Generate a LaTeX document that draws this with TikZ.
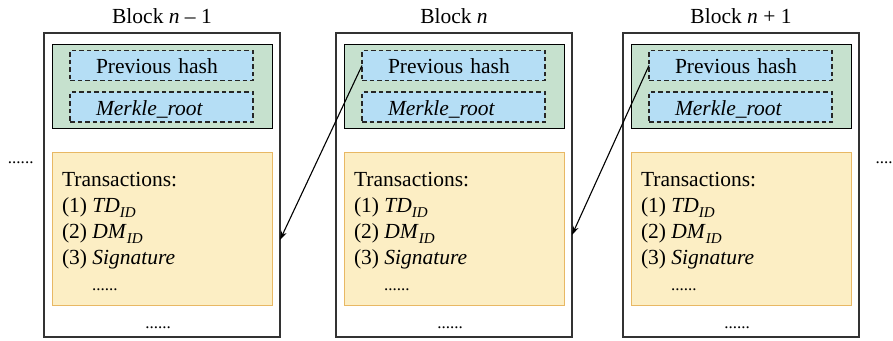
\documentclass[tikz,border=0pt]{standalone}
\usepackage{fontspec}
\setmainfont{Liberation Serif}
\usetikzlibrary{arrows.meta,calc}
\definecolor{hdrgreen}{HTML}{C6E1CE}
\definecolor{hashblue}{HTML}{B5DEF5}
\definecolor{txfill}{HTML}{FCEEC4}
\definecolor{txedge}{HTML}{E8B864}
\definecolor{edgegray}{HTML}{333333}
\newcommand{\subID}{\raisebox{-5pt}{\fontsize{15}{15}\selectfont\itshape ID}}
\begin{document}
\begin{tikzpicture}[x=1pt,y=-1pt,
  every node/.style={inner sep=0pt,outer sep=0pt,font=\fontsize{21.5}{26}\selectfont},
  blockbox/.style={draw=edgegray,line width=1.1pt,fill=white,minimum width=236pt,minimum height=304pt},
  hdrbox/.style={draw=black,line width=1pt,fill=hdrgreen,minimum width=220pt,minimum height=84pt},
  hashbox/.style={draw=black!85,line width=1.2pt,dash pattern=on 4.5pt off 3pt,fill=hashblue,
    minimum width=183pt,minimum height=30pt,inner xsep=26pt,text width=131pt,align=left,
    text height=16pt,text depth=0pt},
  txbox/.style={draw=txedge,line width=0.9pt,fill=txfill,minimum width=220pt,minimum height=153pt},
  txtext/.style={align=left},
  dotstext/.style={font=\fontsize{17}{17}\selectfont},
  linkarrow/.style={line width=1.1pt,-{Stealth[length=9pt,width=6pt]}}]
\useasboundingbox (0,0) rectangle (893,340);

\foreach \i/\X/\lab in {1/44/{Block \textit{n} – 1},2/336/{Block \textit{n}},3/623/{Block \textit{n} + 1}}{
  % outer block frame and its caption
  \node[blockbox,anchor=north west] (b\i) at (\X,33) {};
  \node[anchor=base] (title\i) at ($(b\i.north)+(0,-10)$) {\lab};
  % header with the two hash fields
  \node[hdrbox,anchor=north west] (h\i) at ($(b\i.north west)+(8,11)$) {};
  \node[hashbox,anchor=north west] (ph\i) at ($(b\i.north west)+(26,17.5)$) {Previous hash};
  \node[hashbox,anchor=north west] (mr\i) at ($(b\i.north west)+(26,59)$) {\textit{Merkle\_root}};
  % transaction list
  \node[txbox,anchor=north west] (tx\i) at ($(b\i.north west)+(8,119)$) {};
  \node[txtext,anchor=north west] (tl\i) at ($(tx\i.north west)+(10,20)$)
    {Transactions:\\(1) \textit{TD}\subID\\(2) \textit{DM}\subID\\(3) \textit{Signature}\\
     \hspace*{30pt}{\fontsize{17}{17}\selectfont......}};
  % continuation dots at the foot of the block
  \node[dotstext,anchor=base] (bd\i) at ($(b\i.north west)+(114,295)$) {......};
}

% chain continues on both sides
\node[dotstext,anchor=base west] (ld) at (8,163) {......};
\node[dotstext,anchor=base east] (rd) at (892.5,163) {....};

% each header points back to the previous block
\coordinate (t1) at ($(b1.north east)+(0,207)$);
\coordinate (t2) at ($(b2.north east)+(0,202)$);
\draw[linkarrow] (ph2.west) -- (t1);
\draw[linkarrow] (ph3.west) -- (t2);
\end{tikzpicture}
\end{document}
